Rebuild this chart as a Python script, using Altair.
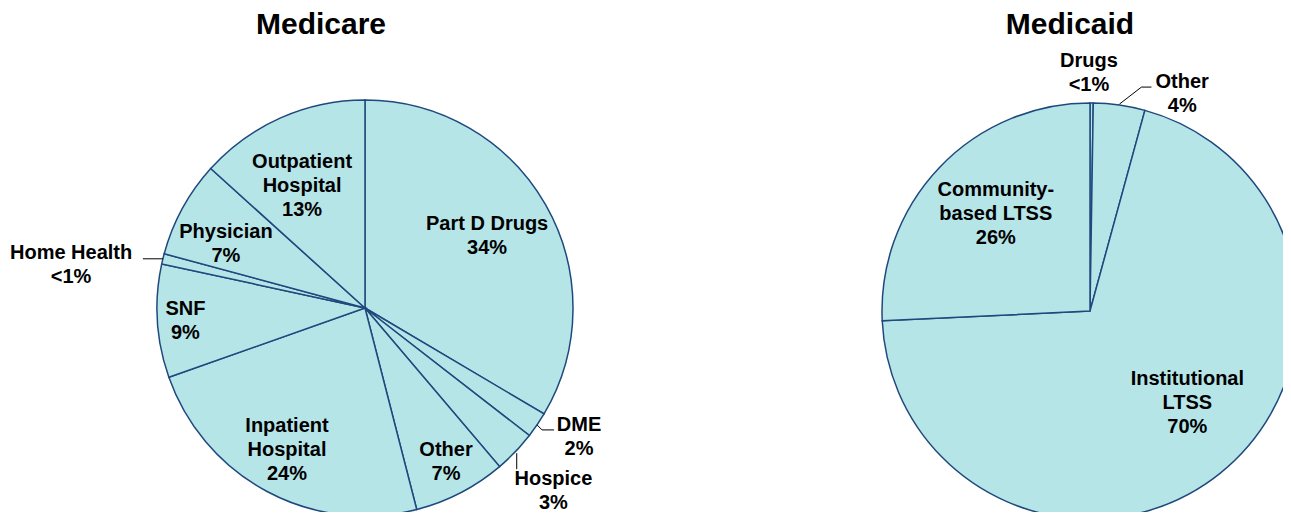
import math
import altair as alt
import pandas as pd

# ---------------- data ----------------
medicare_cats = ["Part D Drugs", "DME", "Hospice", "Other", "Inpatient Hospital",
                 "SNF", "Home Health", "Physician", "Outpatient Hospital"]
medicare_vals = [33.5, 2.0, 3.3, 7.2, 23.6, 8.8, 0.8, 7.5, 13.3]
medicare_labels = ["Part D Drugs\n34%", "DME\n2%", "Hospice\n3%", "Other\n7%",
                   "Inpatient\nHospital\n24%", "SNF\n9%", "Home Health\n<1%",
                   "Physician\n7%", "Outpatient\nHospital\n13%"]

medicaid_cats = ["Drugs", "Other", "Institutional LTSS", "Community-based LTSS"]
medicaid_vals = [0.25, 4.0, 70.0, 25.75]
medicaid_labels = ["Drugs\n<1%", "Other\n4%", "Institutional\nLTSS\n70%",
                   "Community-\nbased LTSS\n26%"]

titles = ["Medicare", "Medicaid"]

# ---------------- layout / style ----------------
W, H = 1275, 504
R = 208
FILL = "#b6e5e8"
STROKE = "#1f497d"
FONT = "Liberation Sans"
LH = 24

pies = [
    dict(name="Medicare", cx=357, cy=300, title_x=313,
         cats=medicare_cats, vals=medicare_vals, labels=medicare_labels,
         # (label radius, angle shift in degrees from slice middle)
         label_layout=[(142, -1.0), (250, -3.1), (263, 0.5), (174, -0.4), (162, 0.7),
                       (180, -0.4), (297, -5.4), (153, -4.0), (137, -3.4)],
         # leader lines: category -> (start radius, list of (dx, dy) offsets)
         leaders={"Home Health": (208, [(-20, 0)]),
                  "DME": (208, [(5, 5), (17, 5)]),
                  "Hospice": (210, [(0, 16)])}),
    dict(name="Medicaid", cx=1082, cy=303, title_x=1062,
         cats=medicaid_cats, vals=medicaid_vals, labels=medicaid_labels,
         label_layout=[(238, -0.7), (236, 14.9), (134, -7.9), (135, 2.1)],
         leaders={"Other": (209, [(22, -17), (32, -17)])}),
]


def polar(cx, cy, r, deg):
    a = math.radians(deg)
    return cx + r * math.sin(a), cy - r * math.cos(a)


layers = []
label_rows, line_rows = [], []
for p in pies:
    df = pd.DataFrame({"cat": p["cats"], "value": p["vals"],
                       "idx": list(range(len(p["cats"])))})
    arc = alt.Chart(df).mark_arc(
        outerRadius=R, fill=FILL, stroke=STROKE, strokeWidth=1.5
    ).encode(
        theta=alt.Theta("value:Q", stack=True),
        order=alt.Order("idx:Q"),
        x=alt.value(p["cx"]),
        y=alt.value(p["cy"]),
    )
    layers.append(arc)

    total = sum(p["vals"])
    cum = 0.0
    for cat, v, lab, (lr, shift) in zip(p["cats"], p["vals"], p["labels"], p["label_layout"]):
        mid = (cum + v / 2) / total * 360.0
        cum += v
        lx, ly = polar(p["cx"], p["cy"], lr, mid + shift)
        nlines = lab.count("\n") + 1
        # first line sits on y; shift so that the whole block is centred
        label_rows.append({"label": lab, "lx": lx, "ly": ly - (nlines - 1) * LH / 2})
        if cat in p["leaders"]:
            r0, offs = p["leaders"][cat]
            sx, sy = polar(p["cx"], p["cy"], r0, mid)
            lid = p["name"] + cat
            line_rows.append({"lid": lid, "k": 0, "px": sx, "py": sy})
            for k, (ox, oy) in enumerate(offs, start=1):
                line_rows.append({"lid": lid, "k": k, "px": sx + ox, "py": sy + oy})

labels_df = pd.DataFrame(label_rows)
lines_df = pd.DataFrame(line_rows)
titles_df = pd.DataFrame({"t": titles, "tx": [p["title_x"] for p in pies], "ty": [26, 26]})

leader = alt.Chart(lines_df).mark_line(color="black", strokeWidth=1).encode(
    x=alt.X("px:Q", scale=None, axis=None),
    y=alt.Y("py:Q", scale=None, axis=None),
    detail="lid:N",
    order="k:Q",
)

text = alt.Chart(labels_df).mark_text(
    font=FONT, fontWeight="bold", fontSize=20, lineHeight=LH,
    align="center", baseline="middle", lineBreak="\n", color="black"
).encode(
    x=alt.X("lx:Q", scale=None, axis=None),
    y=alt.Y("ly:Q", scale=None, axis=None),
    text="label:N",
)

title_text = alt.Chart(titles_df).mark_text(
    font=FONT, fontWeight="bold", fontSize=30, align="center",
    baseline="alphabetic", color="black"
).encode(
    x=alt.X("tx:Q", scale=None, axis=None),
    y=alt.Y("ty:Q", scale=None, axis=None),
    text="t:N",
)

chart = alt.layer(*layers, leader, text, title_text).resolve_scale(
    theta="independent"
).properties(
    width=W, height=H, padding=0, autosize="none"
).configure_view(stroke=None)

chart.save("out.html", embed_options={"renderer": "svg", "actions": False})
